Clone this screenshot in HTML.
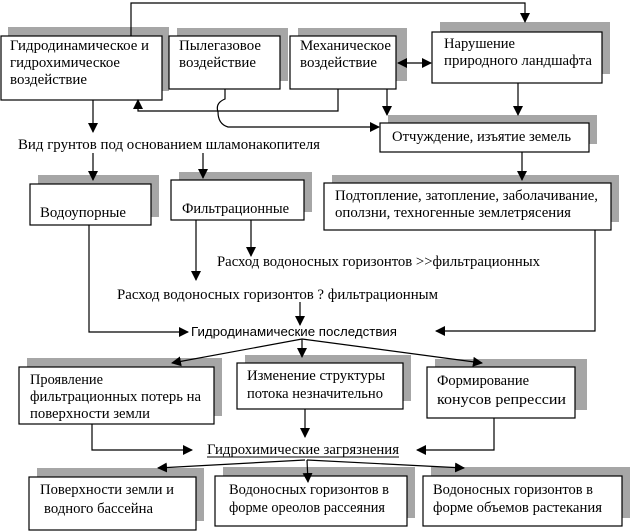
<!DOCTYPE html>
<html><head><meta charset="utf-8"><style>
html,body{margin:0;padding:0;background:#fff;}
svg{display:block;}
text{font-family:"Liberation Serif","DejaVu Serif",serif;font-size:15px;fill:#000;}
.s{font-family:"Liberation Sans","DejaVu Sans",sans-serif;font-size:13px;}
.sh{fill:#a6a6a6;}
.bx{fill:#fff;stroke:#000;stroke-width:1.2;}
.ln{fill:none;stroke:#000;stroke-width:1.2;}
</style></head><body>
<svg width="631" height="532" viewBox="0 0 631 532" xmlns="http://www.w3.org/2000/svg">
<defs>
<marker id="a" markerWidth="10" markerHeight="10" refX="9" refY="5" orient="auto" markerUnits="userSpaceOnUse">
<path d="M0,0 L10,5 L0,10 z" fill="#000"/></marker>
<marker id="b" markerWidth="10" markerHeight="10" refX="1" refY="5" orient="auto" markerUnits="userSpaceOnUse">
<path d="M10,0 L0,5 L10,10 z" fill="#000"/></marker>
</defs>

<rect class="sh" x="8" y="27" width="161" height="64"/>
<rect class="sh" x="177" y="28" width="111" height="53"/>
<rect class="sh" x="298" y="28" width="109" height="53"/>
<rect class="sh" x="440" y="22" width="170" height="52"/>
<rect class="sh" x="388" y="115" width="209" height="29"/>
<rect class="sh" x="38" y="175" width="121" height="42"/>
<rect class="sh" x="179" y="172" width="133" height="40"/>
<rect class="sh" x="332" y="175" width="287" height="47"/>
<rect class="sh" x="27" y="358" width="195" height="58"/>
<rect class="sh" x="245" y="355" width="166" height="46"/>
<rect class="sh" x="435" y="359" width="152" height="51"/>
<rect class="sh" x="37" y="468" width="167" height="53"/>
<rect class="sh" x="223" y="467" width="192" height="51"/>
<rect class="sh" x="431" y="467" width="199" height="51"/>

<rect class="bx" x="1" y="36" width="161" height="64"/>
<rect class="bx" x="169" y="36" width="111" height="53"/>
<rect class="bx" x="290" y="36" width="106" height="53"/>
<rect class="bx" x="432" y="32" width="170" height="51"/>
<rect class="bx" x="380" y="123" width="209" height="29"/>
<rect class="bx" x="30" y="184" width="121" height="41"/>
<rect class="bx" x="171" y="180" width="133" height="40"/>
<rect class="bx" x="324" y="183" width="287" height="47"/>
<rect class="bx" x="19" y="367" width="195" height="57"/>
<rect class="bx" x="237" y="363" width="166" height="46"/>
<rect class="bx" x="427" y="367" width="148" height="51"/>
<rect class="bx" x="29" y="477" width="167" height="53"/>
<rect class="bx" x="215" y="476" width="192" height="50"/>
<rect class="bx" x="423" y="476" width="199" height="50"/>

<polyline class="ln" points="131,36 131,3 525,3 525,22" marker-end="url(#a)"/>
<line class="ln" x1="398" y1="63" x2="431" y2="63" marker-start="url(#b)" marker-end="url(#a)"/>
<line class="ln" x1="93" y1="100" x2="93" y2="132" marker-end="url(#a)"/>
<polyline class="ln" points="338,89 338,111 138,111 138,100" marker-end="url(#a)"/>
<path class="ln" d="M225,89 L225,99 Q215,103 218,112 Q218,124 228,127 L379,127" marker-end="url(#a)"/>
<line class="ln" x1="387" y1="89" x2="387" y2="115" marker-end="url(#a)"/>
<line class="ln" x1="518" y1="83" x2="518" y2="115" marker-end="url(#a)"/>
<line class="ln" x1="522" y1="152" x2="522" y2="180" marker-end="url(#a)"/>
<line class="ln" x1="93" y1="153" x2="93" y2="180" marker-end="url(#a)"/>
<line class="ln" x1="203" y1="153" x2="203" y2="178" marker-end="url(#a)"/>
<line class="ln" x1="196" y1="220" x2="196" y2="280" marker-end="url(#a)"/>
<line class="ln" x1="251" y1="220" x2="251" y2="256" marker-end="url(#a)"/>
<line class="ln" x1="300" y1="302" x2="300" y2="325" marker-end="url(#a)"/>
<polyline class="ln" points="89,225 89,332 188,332" marker-end="url(#a)"/>
<polyline class="ln" points="595,230 595,331 436,331" marker-end="url(#a)"/>
<line class="ln" x1="302" y1="339" x2="172" y2="363" marker-end="url(#a)"/>
<line class="ln" x1="302" y1="339" x2="302" y2="357" marker-end="url(#a)"/>
<line class="ln" x1="302" y1="339" x2="482" y2="363" marker-end="url(#a)"/>
<polyline class="ln" points="92,424 92,450 192,450" marker-end="url(#a)"/>
<line class="ln" x1="305" y1="409" x2="305" y2="437" marker-end="url(#a)"/>
<polyline class="ln" points="494,418 494,450 417,450" marker-end="url(#a)"/>
<line class="ln" x1="305" y1="460" x2="158" y2="468" marker-end="url(#a)"/>
<line class="ln" x1="307" y1="460" x2="308" y2="482" marker-end="url(#a)"/>
<line class="ln" x1="307" y1="460" x2="464" y2="468" marker-end="url(#a)"/>

<text x="10" y="50" textLength="139" lengthAdjust="spacingAndGlyphs">Гидродинамическое и</text>
<text x="10" y="67" textLength="110" lengthAdjust="spacingAndGlyphs">гидрохимическое</text>
<text x="10" y="84" textLength="77" lengthAdjust="spacingAndGlyphs">воздействие</text>
<text x="179" y="50" textLength="82" lengthAdjust="spacingAndGlyphs">Пылегазовое</text>
<text x="179" y="67" textLength="77" lengthAdjust="spacingAndGlyphs">воздействие</text>
<text x="300" y="50" textLength="91" lengthAdjust="spacingAndGlyphs">Механическое</text>
<text x="300" y="67" textLength="77" lengthAdjust="spacingAndGlyphs">воздействие</text>
<text x="444" y="48" textLength="71" lengthAdjust="spacingAndGlyphs">Нарушение</text>
<text x="444" y="65" textLength="148" lengthAdjust="spacingAndGlyphs">природного ландшафта</text>
<text x="392" y="141" textLength="179" lengthAdjust="spacingAndGlyphs">Отчуждение, изъятие земель</text>
<text x="18" y="149" textLength="302" lengthAdjust="spacingAndGlyphs">Вид грунтов под основанием шламонакопителя</text>
<text x="40" y="217" textLength="86" lengthAdjust="spacingAndGlyphs">Водоупорные</text>
<text x="182" y="213" textLength="107" lengthAdjust="spacingAndGlyphs">Фильтрационные</text>
<text x="335" y="200" textLength="263" lengthAdjust="spacingAndGlyphs">Подтопление, затопление, заболачивание,</text>
<text x="335" y="217" textLength="236" lengthAdjust="spacingAndGlyphs">оползни, техногенные землетрясения</text>
<text x="217" y="266" textLength="323" lengthAdjust="spacingAndGlyphs">Расход водоносных горизонтов &gt;&gt;фильтрационных</text>
<text x="117" y="299" textLength="321" lengthAdjust="spacingAndGlyphs">Расход водоносных горизонтов ? фильтрационным</text>
<text class="s" x="191" y="336" textLength="206" lengthAdjust="spacingAndGlyphs">Гидродинамические последствия</text>
<text x="30" y="384" textLength="73" lengthAdjust="spacingAndGlyphs">Проявление</text>
<text x="30" y="401" textLength="171" lengthAdjust="spacingAndGlyphs">фильтрационных потерь на</text>
<text x="30" y="418" textLength="120" lengthAdjust="spacingAndGlyphs">поверхности земли</text>
<text x="247" y="380" textLength="138" lengthAdjust="spacingAndGlyphs">Изменение структуры</text>
<text x="247" y="398" textLength="136" lengthAdjust="spacingAndGlyphs">потока незначительно</text>
<text x="437" y="385" textLength="92" lengthAdjust="spacingAndGlyphs">Формирование</text>
<text x="437" y="404" textLength="129" lengthAdjust="spacingAndGlyphs">конусов репрессии</text>
<text x="207" y="454" textLength="192" lengthAdjust="spacingAndGlyphs">Гидрохимические загрязнения</text>
<line x1="207" y1="457" x2="399" y2="457" stroke="#000" stroke-width="1"/>
<text x="40" y="494" textLength="134" lengthAdjust="spacingAndGlyphs">Поверхности земли и</text>
<text x="44" y="513" textLength="109" lengthAdjust="spacingAndGlyphs">водного бассейна</text>
<text x="229" y="494" textLength="160" lengthAdjust="spacingAndGlyphs">Водоносных горизонтов в</text>
<text x="229" y="512" textLength="156" lengthAdjust="spacingAndGlyphs">форме ореолов рассеяния</text>
<text x="433" y="494" textLength="160" lengthAdjust="spacingAndGlyphs">Водоносных горизонтов в</text>
<text x="433" y="512" textLength="169" lengthAdjust="spacingAndGlyphs">форме объемов растекания</text>
</svg>
</body></html>
